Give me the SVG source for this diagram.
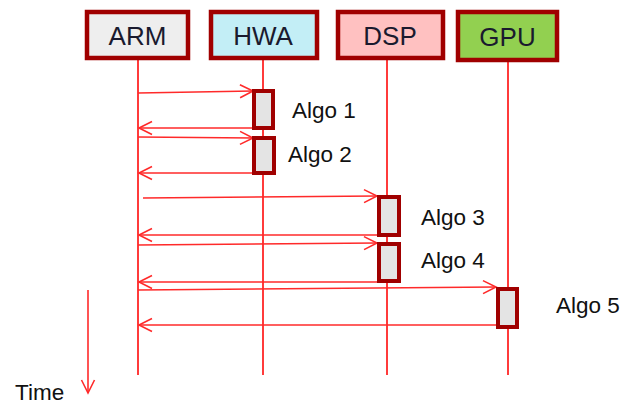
<svg xmlns="http://www.w3.org/2000/svg" width="637" height="406" viewBox="0 0 637 406">
  <defs>
    <style>
      .head { stroke: #a00000; stroke-width: 4.5; }
      .lbl { font-family: "Liberation Sans", Arial, sans-serif; font-size: 26px; fill: #1a1a2e; text-anchor: middle; }
      .algo { font-family: "Liberation Sans", Arial, sans-serif; font-size: 22.5px; fill: #111; }
      .life { stroke: #ff3b3b; stroke-width: 2; fill: none; }
      .msg { stroke: #ff2a2a; stroke-width: 1.6; fill: none; marker-end: url(#open); }
      .act { fill: #e4e4e4; stroke: #a00000; stroke-width: 4; }
    </style>
    <marker id="open" markerUnits="userSpaceOnUse" markerWidth="18" markerHeight="18" viewBox="0 0 18 18" refX="15" refY="9" orient="auto">
      <path d="M2,2.5 L15,9 L2,15.5" fill="none" stroke="#ff2a2a" stroke-width="1.6"/>
    </marker>
  </defs>

  <!-- lifelines -->
  <g id="lifelines">
    <line class="life" x1="138" y1="59" x2="138" y2="375"/>
    <line class="life" x1="263" y1="59" x2="263" y2="375"/>
    <line class="life" x1="387" y1="59" x2="387" y2="375"/>
    <line class="life" x1="508" y1="61" x2="508" y2="375"/>
  </g>

  <!-- participants -->
  <g id="arm">
    <rect class="head" x="87" y="12" width="101" height="46" fill="#eeeeee"/>
    <text class="lbl" x="137.5" y="45">ARM</text>
  </g>
  <g id="hwa">
    <rect class="head" x="211" y="12" width="106" height="46" fill="#c3eef6"/>
    <text class="lbl" x="263" y="45">HWA</text>
  </g>
  <g id="dsp">
    <rect class="head" x="338" y="12" width="105" height="46" fill="#ffc1c1"/>
    <text class="lbl" x="390" y="45">DSP</text>
  </g>
  <g id="gpu">
    <rect class="head" x="458" y="12" width="99" height="48" fill="#92d050"/>
    <text class="lbl" x="507.5" y="46">GPU</text>
  </g>

  <!-- messages -->
  <g id="connectors">
    <line class="msg" x1="138" y1="93" x2="253" y2="91"/>
    <line class="msg" x1="253" y1="128" x2="139" y2="128"/>
    <line class="msg" x1="138" y1="137" x2="253" y2="138"/>
    <line class="msg" x1="253" y1="173" x2="139" y2="173"/>
    <line class="msg" x1="143" y1="198" x2="377" y2="196"/>
    <line class="msg" x1="377" y1="235" x2="139" y2="235"/>
    <line class="msg" x1="138" y1="245" x2="377" y2="243"/>
    <line class="msg" x1="377" y1="282" x2="139" y2="282"/>
    <line class="msg" x1="138" y1="290" x2="496" y2="287"/>
    <line class="msg" x1="496" y1="325" x2="139" y2="325"/>
    <!-- time axis -->
    <line class="msg" x1="88" y1="290" x2="88" y2="393"/>
  </g>

  <!-- activations -->
  <g id="algo1">
    <rect class="act" x="254" y="91" width="19" height="37"/>
    <text class="algo" x="292" y="118">Algo 1</text>
  </g>
  <g id="algo2">
    <rect class="act" x="254" y="138" width="20" height="35"/>
    <text class="algo" x="288" y="162">Algo 2</text>
  </g>
  <g id="algo3">
    <rect class="act" x="379" y="197" width="20" height="38"/>
    <text class="algo" x="421" y="225">Algo 3</text>
  </g>
  <g id="algo4">
    <rect class="act" x="379" y="244" width="20" height="37"/>
    <text class="algo" x="421" y="268">Algo 4</text>
  </g>
  <g id="algo5">
    <rect class="act" x="498" y="289" width="19" height="38"/>
    <text class="algo" x="556" y="313">Algo 5</text>
  </g>

  <text class="algo" x="15" y="400">Time</text>
</svg>
